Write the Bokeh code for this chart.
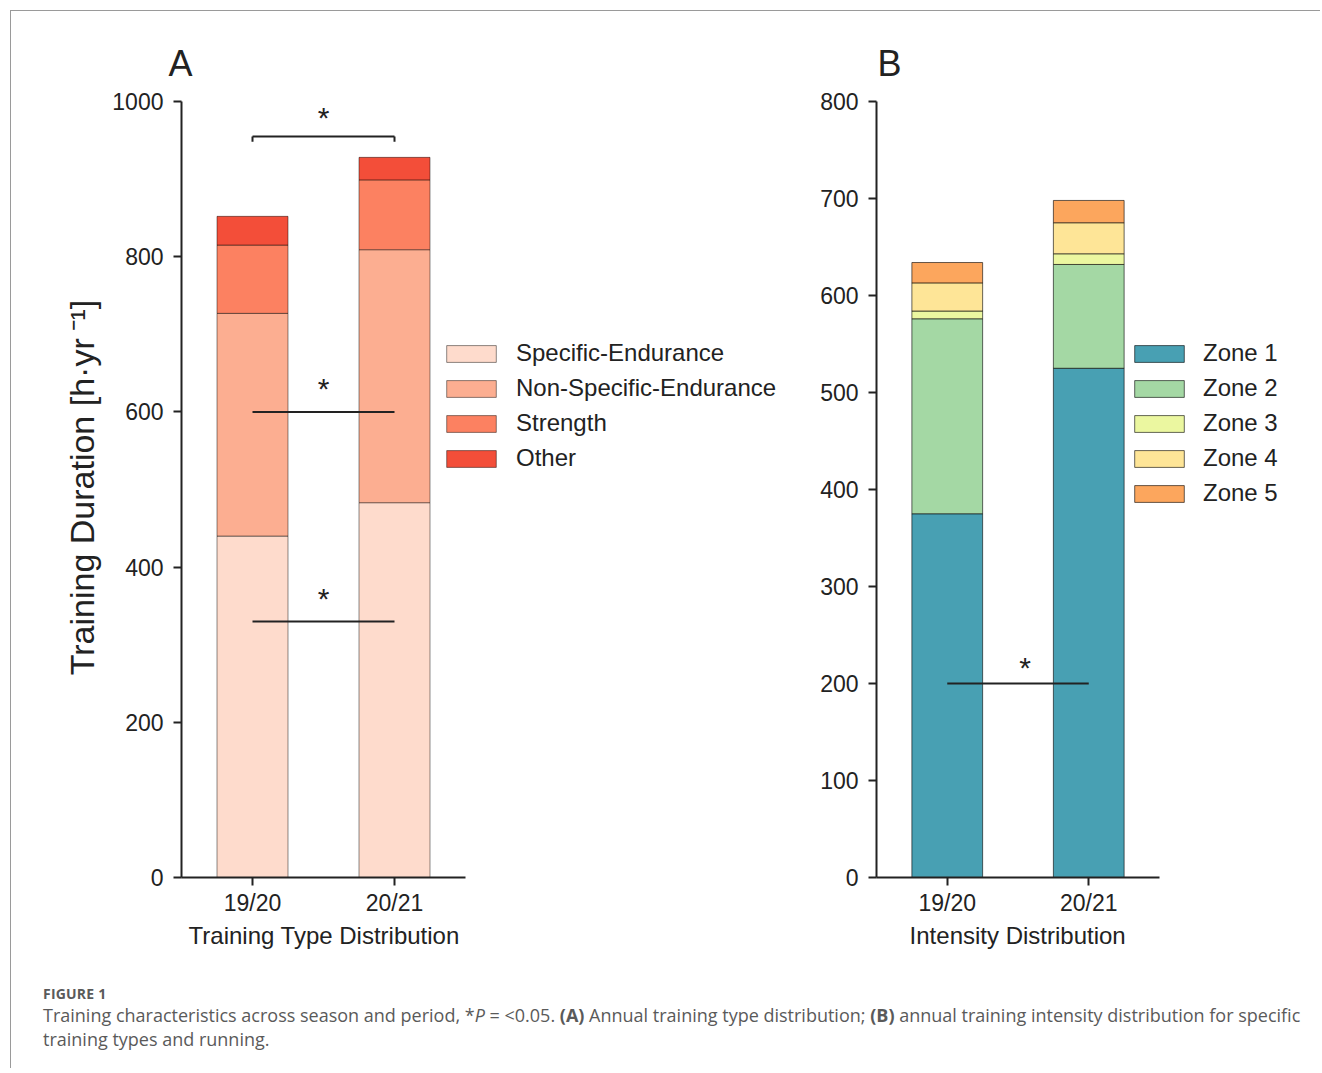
from bokeh.plotting import figure
from bokeh.models import ColumnDataSource, FixedTicker, Div, Range1d
from bokeh.layouts import row, column
from bokeh.core.properties import value
from bokeh.embed import file_html
from bokeh.resources import INLINE

# ---------------- data ----------------
seasons = ["19/20", "20/21"]
x_pos = [1, 2]

type_names = ["Specific-Endurance", "Non-Specific-Endurance", "Strength", "Other"]
specific_endurance = [440, 483]
non_specific_endurance = [287, 326]
strength = [88, 90]
other = [37, 29]
type_colors = ["#FEDBCC", "#FCAE91", "#FC8161", "#F34E39"]

zone_names = ["Zone 1", "Zone 2", "Zone 3", "Zone 4", "Zone 5"]
zone1 = [375, 525]
zone2 = [201, 107]
zone3 = [8, 11]
zone4 = [29, 32]
zone5 = [21, 23]
zone_colors = ["#48A0B3", "#A4D8A4", "#EBF7A0", "#FEE597", "#FCA65D"]

sig_a = [330, 600]        # significance lines, panel A
bracket_a = [955]         # significance bracket, panel A
sig_b = [200]             # significance line, panel B

yticks_a = [0, 200, 400, 600, 800, 1000]
yticks_b = [0, 100, 200, 300, 400, 500, 600, 700, 800]

FONT = "Liberation Sans"
INK = "#222222"
NBSP = "\u00a0"

# layout geometry (pixels)
TOP, BOTTOM = 86, 81
FRAME_H = 780


def style(p):
    p.xgrid.visible = False
    p.ygrid.visible = False
    p.outline_line_color = None
    p.title.text_font = FONT
    p.title.text_font_size = "36px"
    p.title.text_font_style = "normal"
    p.title.text_color = INK
    p.title.align = "left"
    p.title.standoff = 28
    for ax in (p.xaxis[0], p.yaxis[0]):
        ax.axis_line_width = 2
        ax.axis_line_color = INK
        ax.major_tick_line_width = 2
        ax.major_tick_line_color = INK
        ax.major_tick_out = 8
        ax.major_tick_in = 0
        ax.minor_tick_line_color = None
        ax.major_label_text_font = FONT
        ax.major_label_text_font_size = "23px"
        ax.major_label_text_color = INK
        ax.axis_label_text_font = FONT
        ax.axis_label_text_font_style = "normal"
        ax.axis_label_text_color = INK
    p.xaxis.ticker = FixedTicker(ticks=x_pos)
    p.xaxis.major_label_overrides = {x: s for x, s in zip(x_pos, seasons)}
    p.xaxis.major_label_standoff = 4
    p.xaxis.axis_label_text_font_size = "24px"
    p.xaxis.axis_label_standoff = 3
    p.xaxis.bounds = (0.5, 2.5)
    p.yaxis.major_label_standoff = 10


def style_legend(p, loc, standoff):
    lg = p.legend[0]
    lg.location = loc
    lg.padding = 0
    lg.margin = 0
    lg.border_line_color = None
    lg.background_fill_alpha = 0
    lg.glyph_width = 62
    lg.glyph_height = 21
    lg.label_standoff = standoff
    lg.spacing = 7
    lg.label_text_font = FONT
    lg.label_text_font_size = "24px"
    lg.label_text_color = INK
    lg.label_text_baseline = "middle"


# ---------------- panel A ----------------
src_a = ColumnDataSource(dict(x=x_pos,
                              **{type_names[0]: specific_endurance,
                                 type_names[1]: non_specific_endurance,
                                 type_names[2]: strength,
                                 type_names[3]: other}))

wA, lA, rA = 787, 170, 5
pA = figure(title="A", width=wA, height=TOP + FRAME_H + BOTTOM, output_backend="svg",
            toolbar_location=None,
            x_range=Range1d(0.5, 0.5 + (wA - lA - rA) / 142),
            y_range=Range1d(0, FRAME_H / 0.776),
            min_border_left=lA, min_border_right=rA, min_border_top=TOP,
            min_border_bottom=BOTTOM)
pA.vbar_stack(type_names, x="x", width=0.5, source=src_a, fill_color=type_colors,
              line_color="black", line_alpha=0.45, line_width=1,
              legend_label=type_names)
style(pA)
pA.title.offset = -13
pA.yaxis.bounds = (0, 1000)
pA.yaxis.ticker = FixedTicker(ticks=yticks_a)
pA.yaxis.axis_label = "Training Duration [h·yr\u2009⁻¹]"
pA.yaxis.axis_label_text_font_size = "34px"
pA.yaxis.axis_label_standoff = 8
# axis label is centred on the (wide) frame: pad so it sits under the two bars
pA.xaxis.axis_label = "Training Type Distribution" + NBSP * 49
style_legend(pA, (259, 405), 14)

pA.segment(x0=[x_pos[0]] * len(sig_a), x1=[x_pos[1]] * len(sig_a), y0=sig_a, y1=sig_a,
           line_color=INK, line_width=2)
pA.segment(x0=[x_pos[0]] * len(bracket_a), x1=[x_pos[1]] * len(bracket_a),
           y0=bracket_a, y1=bracket_a, line_color=INK, line_width=2)
pA.segment(x0=x_pos, x1=x_pos, y0=bracket_a * 2, y1=[v - 7 for v in bracket_a] * 2,
           line_color=INK, line_width=2)
pA.text(x=[1.5] * len(sig_a), y=sig_a, text=["*"] * len(sig_a), text_align="center",
        text_baseline="alphabetic", y_offset=-23, text_font=value(FONT),
        text_font_size="30px", text_color=INK)
pA.text(x=[1.5], y=bracket_a, text=["*"], text_align="center",
        text_baseline="alphabetic", y_offset=-19, text_font=value(FONT),
        text_font_size="30px", text_color=INK)

# ---------------- panel B ----------------
src_b = ColumnDataSource(dict(x=x_pos,
                              **{zone_names[0]: zone1, zone_names[1]: zone2,
                                 zone_names[2]: zone3, zone_names[3]: zone4,
                                 zone_names[4]: zone5}))

wB, lB, rB = 512, 78, 5
pB = figure(title="B", width=wB, height=TOP + FRAME_H + BOTTOM, output_backend="svg",
            toolbar_location=None,
            x_range=Range1d(0.5, 0.5 + (wB - lB - rB) / 141.5),
            y_range=Range1d(0, FRAME_H / 0.97),
            min_border_left=lB, min_border_right=rB, min_border_top=TOP,
            min_border_bottom=BOTTOM)
pB.vbar_stack(zone_names, x="x", width=0.5, source=src_b, fill_color=zone_colors,
              line_color="black", line_alpha=0.6, line_width=1,
              legend_label=zone_names)
style(pB)
pB.title.offset = 1
pB.yaxis.bounds = (0, 800)
pB.yaxis.ticker = FixedTicker(ticks=yticks_b)
pB.xaxis.axis_label = "Intensity Distribution" + NBSP * 22
style_legend(pB, (252, 370), 13)

pB.segment(x0=[x_pos[0]] * len(sig_b), x1=[x_pos[1]] * len(sig_b), y0=sig_b, y1=sig_b,
           line_color=INK, line_width=2)
pB.text(x=[1.5] * len(sig_b), y=sig_b, text=["*"] * len(sig_b), text_align="center",
        text_baseline="alphabetic", y_offset=-16, x_offset=7, text_font=value(FONT),
        text_font_size="30px", text_color=INK)

# ---------------- caption ----------------
caption = Div(width=1299, height=100, text=(
    "<div style=\"font-family:'Open Sans'; color:#5a5a5a; margin-left:27px; padding-top:21px;\">"
    "<div style=\"font-size:14px; font-weight:bold; letter-spacing:0.2px; margin-bottom:-1px;\">FIGURE 1</div>"
    "<div style=\"font-size:18px; line-height:24px; white-space:nowrap;\">"
    "Training characteristics across season and period, *<i>P</i> = &lt;0.05. <b>(A)</b> Annual training type "
    "distribution; <b>(B)</b> annual training intensity distribution for specific<br>training types and running."
    "</div></div>"))

layout = column(row(pA, pB), caption,
                styles={"border-top": "1px solid #9a9a9a", "border-left": "1px solid #9a9a9a",
                        "margin-left": "10px", "margin-top": "10px"})

open("out.html", "w").write(file_html(layout, INLINE))
